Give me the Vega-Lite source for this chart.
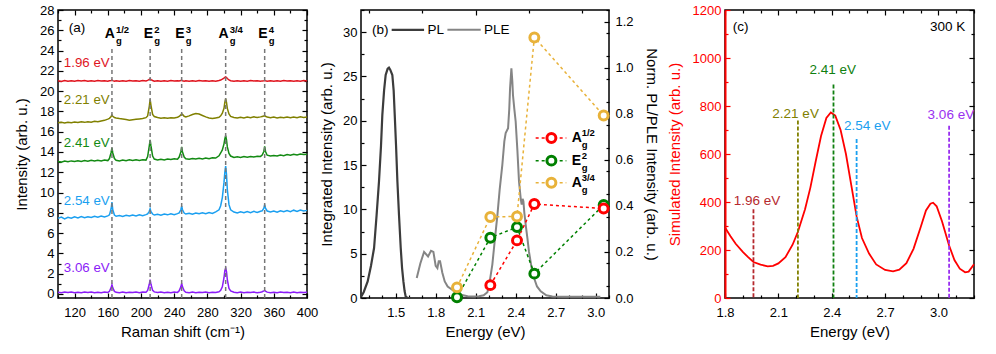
{
"$schema": "https://vega.github.io/schema/vega-lite/v6.json",
"padding": {"left": 13, "top": 3, "right": 0, "bottom": 0},
"bounds": "flush",
"spacing": 54,
"resolve": {"scale": {"color": "independent"}},
"config": {
  "font": "Liberation Sans",
  "view": {"stroke": "#000", "strokeWidth": 1.5},
  "axis": {"grid": false, "domain": false, "tickColor": "#000", "tickWidth": 1.2, "tickSize": -5, "labelColor": "#000", "titleColor": "#000", "labelFont": "Liberation Sans", "titleFont": "Liberation Sans", "labelFontSize": 13, "titleFontSize": 15, "titleFontWeight": "normal", "labelOverlap": false, "labelBound": false, "labelFlush": false},
  "text": {"font": "Liberation Sans"}
},
"hconcat": [
{
  "width": 249, "height": 288,
  "layer": [
   {"layer": [
    {
      "data": {"values": [
{"x":100,"r":21.02,"o":16.88,"g":13.05,"b":7.45,"p":0.17},
{"x":104,"r":20.96,"o":16.93,"g":13.0,"b":7.58,"p":0.12},
{"x":108,"r":21.05,"o":16.85,"g":13.1,"b":7.4,"p":0.18},
{"x":112,"r":20.98,"o":16.94,"g":13.03,"b":7.55,"p":0.14},
{"x":116,"r":21.03,"o":16.89,"g":13.12,"b":7.47,"p":0.19},
{"x":120,"r":20.97,"o":16.95,"g":13.06,"b":7.6,"p":0.13},
{"x":124,"r":21.04,"o":16.9,"g":13.14,"b":7.5,"p":0.17},
{"x":128,"r":20.99,"o":16.97,"g":13.07,"b":7.63,"p":0.12},
{"x":132,"r":21.05,"o":16.92,"g":13.15,"b":7.52,"p":0.18},
{"x":136,"r":20.97,"o":16.99,"g":13.09,"b":7.62,"p":0.14},
{"x":140,"r":21.03,"o":16.94,"g":13.17,"b":7.55,"p":0.19},
{"x":144,"r":20.98,"o":17.02,"g":13.1,"b":7.66,"p":0.13},
{"x":148,"r":21.04,"o":16.98,"g":13.18,"b":7.57,"p":0.17},
{"x":152,"r":20.99,"o":17.06,"g":13.12,"b":7.68,"p":0.12},
{"x":156,"r":21.03,"o":17.12,"g":13.2,"b":7.6,"p":0.18},
{"x":160,"r":20.97,"o":17.24,"g":13.15,"b":7.7,"p":0.15},
{"x":162,"r":21.02,"o":17.32,"g":13.35,"b":7.8,"p":0.26},
{"x":164,"r":21.05,"o":17.5,"g":13.95,"b":8.4,"p":0.62},
{"x":165,"r":21.08,"o":17.65,"g":14.4,"b":9.05,"p":0.9},
{"x":166,"r":21.04,"o":17.52,"g":13.9,"b":8.3,"p":0.6},
{"x":168,"r":20.98,"o":17.4,"g":13.35,"b":7.78,"p":0.25},
{"x":170,"r":21.03,"o":17.36,"g":13.18,"b":7.66,"p":0.16},
{"x":174,"r":20.97,"o":17.3,"g":13.12,"b":7.74,"p":0.13},
{"x":178,"r":21.02,"o":17.25,"g":13.2,"b":7.65,"p":0.18},
{"x":182,"r":20.98,"o":17.2,"g":13.14,"b":7.75,"p":0.12},
{"x":186,"r":21.04,"o":17.14,"g":13.22,"b":7.68,"p":0.17},
{"x":190,"r":20.99,"o":17.18,"g":13.16,"b":7.78,"p":0.14},
{"x":194,"r":21.03,"o":17.22,"g":13.23,"b":7.7,"p":0.19},
{"x":198,"r":20.98,"o":17.26,"g":13.17,"b":7.8,"p":0.13},
{"x":202,"r":21.04,"o":17.3,"g":13.24,"b":7.72,"p":0.18},
{"x":206,"r":21.0,"o":17.38,"g":13.2,"b":7.82,"p":0.16},
{"x":208,"r":21.06,"o":17.55,"g":13.55,"b":7.9,"p":0.35},
{"x":210,"r":21.15,"o":18.5,"g":14.6,"b":8.15,"p":0.95},
{"x":211,"r":21.22,"o":19.2,"g":15.2,"b":8.4,"p":1.4},
{"x":212,"r":21.14,"o":18.6,"g":14.6,"b":8.12,"p":0.95},
{"x":214,"r":21.05,"o":17.7,"g":13.6,"b":7.88,"p":0.35},
{"x":216,"r":20.98,"o":17.5,"g":13.3,"b":7.78,"p":0.2},
{"x":220,"r":21.03,"o":17.4,"g":13.22,"b":7.86,"p":0.14},
{"x":224,"r":20.97,"o":17.33,"g":13.28,"b":7.77,"p":0.18},
{"x":228,"r":21.02,"o":17.38,"g":13.22,"b":7.88,"p":0.13},
{"x":232,"r":20.98,"o":17.32,"g":13.3,"b":7.8,"p":0.17},
{"x":236,"r":21.04,"o":17.37,"g":13.25,"b":7.9,"p":0.12},
{"x":240,"r":20.99,"o":17.34,"g":13.32,"b":7.82,"p":0.18},
{"x":244,"r":21.03,"o":17.42,"g":13.28,"b":7.92,"p":0.15},
{"x":246,"r":21.0,"o":17.5,"g":13.5,"b":8.0,"p":0.3},
{"x":248,"r":21.04,"o":17.66,"g":14.0,"b":8.3,"p":0.7},
{"x":249,"r":21.06,"o":17.75,"g":14.5,"b":8.65,"p":1.05},
{"x":250,"r":21.02,"o":17.7,"g":14.0,"b":8.3,"p":0.7},
{"x":252,"r":20.98,"o":17.52,"g":13.5,"b":7.98,"p":0.3},
{"x":254,"r":21.03,"o":17.46,"g":13.33,"b":7.88,"p":0.17},
{"x":258,"r":20.97,"o":17.56,"g":13.28,"b":7.96,"p":0.13},
{"x":262,"r":21.02,"o":17.7,"g":13.36,"b":7.86,"p":0.18},
{"x":266,"r":20.98,"o":17.8,"g":13.3,"b":7.98,"p":0.12},
{"x":270,"r":21.04,"o":17.74,"g":13.38,"b":7.9,"p":0.17},
{"x":274,"r":20.99,"o":17.6,"g":13.32,"b":8.0,"p":0.14},
{"x":278,"r":21.03,"o":17.46,"g":13.4,"b":7.92,"p":0.18},
{"x":282,"r":20.97,"o":17.36,"g":13.34,"b":8.02,"p":0.13},
{"x":286,"r":21.02,"o":17.3,"g":13.42,"b":7.94,"p":0.17},
{"x":290,"r":20.98,"o":17.36,"g":13.4,"b":8.1,"p":0.15},
{"x":294,"r":21.05,"o":17.42,"g":13.62,"b":8.3,"p":0.22},
{"x":296,"r":21.1,"o":17.56,"g":13.9,"b":8.7,"p":0.35},
{"x":298,"r":21.18,"o":17.82,"g":14.2,"b":9.5,"p":0.7},
{"x":300,"r":21.28,"o":18.3,"g":14.8,"b":11.0,"p":1.6},
{"x":301,"r":21.36,"o":18.9,"g":15.3,"b":12.0,"p":2.3},
{"x":302,"r":21.4,"o":19.25,"g":15.6,"b":12.6,"p":2.55},
{"x":303,"r":21.34,"o":18.9,"g":15.2,"b":11.8,"p":2.2},
{"x":304,"r":21.24,"o":18.3,"g":14.5,"b":10.3,"p":1.4},
{"x":306,"r":21.1,"o":17.75,"g":13.85,"b":8.8,"p":0.55},
{"x":308,"r":21.02,"o":17.5,"g":13.6,"b":8.3,"p":0.3},
{"x":312,"r":20.98,"o":17.4,"g":13.46,"b":8.08,"p":0.17},
{"x":316,"r":21.03,"o":17.34,"g":13.52,"b":7.98,"p":0.13},
{"x":320,"r":20.97,"o":17.42,"g":13.46,"b":8.1,"p":0.18},
{"x":324,"r":21.02,"o":17.36,"g":13.54,"b":8.0,"p":0.12},
{"x":328,"r":20.98,"o":17.44,"g":13.48,"b":8.12,"p":0.17},
{"x":332,"r":21.04,"o":17.38,"g":13.56,"b":8.02,"p":0.14},
{"x":336,"r":20.99,"o":17.46,"g":13.5,"b":8.14,"p":0.18},
{"x":340,"r":21.03,"o":17.4,"g":13.58,"b":8.04,"p":0.13},
{"x":344,"r":20.97,"o":17.46,"g":13.56,"b":8.16,"p":0.17},
{"x":346,"r":21.01,"o":17.5,"g":13.7,"b":8.2,"p":0.22},
{"x":348,"r":21.03,"o":17.54,"g":14.05,"b":8.45,"p":0.3},
{"x":349,"r":21.05,"o":17.58,"g":14.55,"b":8.8,"p":0.35},
{"x":350,"r":21.02,"o":17.52,"g":14.05,"b":8.45,"p":0.28},
{"x":352,"r":20.98,"o":17.44,"g":13.68,"b":8.18,"p":0.18},
{"x":356,"r":21.03,"o":17.38,"g":13.6,"b":8.08,"p":0.13},
{"x":360,"r":20.97,"o":17.44,"g":13.66,"b":8.18,"p":0.17},
{"x":364,"r":21.02,"o":17.36,"g":13.6,"b":8.06,"p":0.12},
{"x":368,"r":20.98,"o":17.42,"g":13.7,"b":8.2,"p":0.18},
{"x":372,"r":21.04,"o":17.38,"g":13.64,"b":8.1,"p":0.14},
{"x":376,"r":20.99,"o":17.45,"g":13.74,"b":8.22,"p":0.17},
{"x":380,"r":21.03,"o":17.37,"g":13.68,"b":8.12,"p":0.13},
{"x":384,"r":20.97,"o":17.44,"g":13.78,"b":8.26,"p":0.18},
{"x":388,"r":21.02,"o":17.38,"g":13.7,"b":8.14,"p":0.12},
{"x":392,"r":20.98,"o":17.46,"g":13.8,"b":8.28,"p":0.17},
{"x":396,"r":21.04,"o":17.4,"g":13.74,"b":8.18,"p":0.14},
{"x":400,"r":20.99,"o":17.44,"g":13.78,"b":8.24,"p":0.16}
      ]},
      "transform": [{"fold": ["r","o","g","b","p"], "as": ["s","y"]}],
      "mark": {"type": "line", "strokeWidth": 1.5},
      "encoding": {
        "x": {"field": "x", "type": "quantitative", "scale": {"domain": [100, 400], "nice": false},
              "axis": {"orient": "bottom", "title": "Raman shift (cm⁻¹)", "labelOverlap": false, "values": [120,200,280,360], "labelPadding": 13, "titlePadding": 5}},
        "y": {"field": "y", "type": "quantitative", "scale": {"domain": [-0.4, 28], "nice": false, "zero": false},
              "axis": {"orient": "left", "title": "Intensity (arb. u.)", "labelOverlap": false, "values": [0,4,8,12,16,20,24,28], "labelPadding": 9, "titlePadding": 10}},
        "color": {"field": "s", "type": "nominal", "scale": {"domain": ["r","o","g","b","p"], "range": ["#e0141e","#808000","#138a13","#1a9ff0","#8b1cf7"]}, "legend": null}
      }
    },
    {
      "data": {"values": [{"x":165,"y":-0.4,"y2":24.3},{"x":211,"y":-0.4,"y2":24.3},{"x":249,"y":-0.4,"y2":24.3},{"x":302,"y":-0.4,"y2":24.3},{"x":349,"y":-0.4,"y2":24.3}]},
      "mark": {"type": "rule", "color": "#777777", "strokeWidth": 1.5, "strokeDash": [4, 3]},
      "encoding": {"x": {"field": "x", "type": "quantitative"}, "y": {"field": "y", "type": "quantitative"}, "y2": {"field": "y2"}}
    },
    {
      "data": {"values": [{"x":107,"y":22.8,"s":"r","t":"1.96 eV"},{"x":107,"y":19.1,"s":"o","t":"2.21 eV"},{"x":107,"y":14.9,"s":"g","t":"2.41 eV"},{"x":107,"y":9.2,"s":"b","t":"2.54 eV"},{"x":107,"y":2.6,"s":"p","t":"3.06 eV"}]},
      "mark": {"type": "text", "align": "left", "baseline": "middle", "fontSize": 13.3},
      "encoding": {"x": {"field": "x", "type": "quantitative"}, "y": {"field": "y", "type": "quantitative"}, "text": {"field": "t", "type": "nominal"}, "color": {"field": "s", "type": "nominal", "legend": null}}
    },
    {
      "data": {"values": [{"x":113,"y":26.2,"t":"(a)"}]},
      "mark": {"type": "text", "align": "left", "baseline": "middle", "fontSize": 13.5, "color": "#000"},
      "encoding": {"x": {"field": "x", "type": "quantitative"}, "y": {"field": "y", "type": "quantitative"}, "text": {"field": "t", "type": "nominal"}}
    },
    {
      "data": {"values": [{"x":165,"y":25.6,"m":"A","u":"1/2"},{"x":211,"y":25.6,"m":"E","u":"2"},{"x":249,"y":25.6,"m":"E","u":"3"},{"x":302,"y":25.6,"m":"A","u":"3/4"},{"x":349,"y":25.6,"m":"E","u":"4"}]},
      "encoding": {"x": {"field": "x", "type": "quantitative"}, "y": {"field": "y", "type": "quantitative"}},
      "layer": [
        {"mark": {"type": "text", "align": "right", "baseline": "middle", "dx": 3, "fontSize": 14, "fontWeight": "bold", "color": "#000"}, "encoding": {"text": {"field": "m", "type": "nominal"}}},
        {"mark": {"type": "text", "align": "left", "baseline": "middle", "dx": 4, "dy": 7, "fontSize": 9.5, "fontWeight": "bold", "color": "#000", "text": "g"}},
        {"mark": {"type": "text", "align": "left", "baseline": "middle", "dx": 4, "dy": -4, "fontSize": 9.5, "fontWeight": "bold", "color": "#000"}, "encoding": {"text": {"field": "u", "type": "nominal"}}}
      ]
    }
   ]},
   {
     "data": {"values": [{"x": 100, "y": 0}]},
     "mark": {"type": "point", "opacity": 0},
     "encoding": {
       "x": {"field": "x", "type": "quantitative", "scale": {"domain": [100, 400], "nice": false},
             "axis": {"orient": "top", "title": null, "labels": false, "values": [100,120,140,160,180,200,220,240,260,280,300,320,340,360,380,400], "tickSize": {"condition": {"test": "datum.value % 40 == 0", "value": -5}, "value": -3}}},
       "y": {"field": "y", "type": "quantitative", "scale": {"domain": [-0.4, 28], "nice": false, "zero": false},
             "axis": {"orient": "right", "title": null, "labels": false, "values": [0,1,2,3,4,5,6,7,8,9,10,11,12,13,14,15,16,17,18,19,20,21,22,23,24,25,26,27,28], "tickSize": {"condition": {"test": "datum.value % 2 == 0", "value": -5}, "value": -3}}}
     }
   },
   {
     "data": {"values": [{"x": 100, "y": 0}]},
     "mark": {"type": "point", "opacity": 0},
     "encoding": {
       "x": {"field": "x", "type": "quantitative", "scale": {"domain": [100, 400], "nice": false},
             "axis": {"orient": "bottom", "title": null, "labels": false, "values": [100,140,180,220,260,300,340,380], "tickSize": -3}},
       "y": {"field": "y", "type": "quantitative", "scale": {"domain": [-0.4, 28], "nice": false, "zero": false},
             "axis": {"orient": "left", "title": null, "labels": false, "values": [1,3,5,7,9,11,13,15,17,19,21,23,25,27], "tickSize": -3}}
     }
   },
   {
     "data": {"values": [{"x": 100, "y": 0}]},
     "mark": {"type": "point", "opacity": 0},
     "encoding": {
       "x": {"field": "x", "type": "quantitative", "scale": {"domain": [100, 400], "nice": false},
             "axis": {"orient": "bottom", "title": null, "labelOverlap": false, "values": [160,240,320,400], "labelPadding": 13}},
       "y": {"field": "y", "type": "quantitative", "scale": {"domain": [-0.4, 28], "nice": false, "zero": false},
             "axis": {"orient": "left", "title": null, "labelOverlap": false, "values": [2,6,10,14,18,22,26], "labelPadding": 9}}
     }
   }
  ],
  "resolve": {"axis": {"x": "independent", "y": "independent"}}
},
{
  "width": 248, "height": 288,
  "layer": [
   {"layer": [
    {
      "data": {"values": [
{"x":1.24,"y":0.005},{"x":1.26,"y":0.025},{"x":1.29,"y":0.072},{"x":1.315,"y":0.14},{"x":1.338,"y":0.217},{"x":1.357,"y":0.36},{"x":1.375,"y":0.506},{"x":1.39,"y":0.66},{"x":1.4,"y":0.795},{"x":1.413,"y":0.9},{"x":1.425,"y":0.968},{"x":1.44,"y":0.995},{"x":1.45,"y":1.0},{"x":1.46,"y":0.99},{"x":1.475,"y":0.968},{"x":1.485,"y":0.9},{"x":1.493,"y":0.795},{"x":1.503,"y":0.66},{"x":1.513,"y":0.506},{"x":1.525,"y":0.36},{"x":1.538,"y":0.217},{"x":1.548,"y":0.13},{"x":1.558,"y":0.072},{"x":1.567,"y":0.03},{"x":1.575,"y":0.007},{"x":1.59,"y":0.0},{"x":1.61,"y":0.0}
      ]},
      "mark": {"type": "line", "color": "#3c3c3c", "strokeWidth": 2.2},
      "encoding": {
        "x": {"field": "x", "type": "quantitative", "scale": {"domain": [1.24, 3.1], "nice": false, "zero": false},
              "axis": {"orient": "top", "title": null, "labels": false, "values": [1.3,1.4,1.5,1.6,1.7,1.8,1.9,2.0,2.1,2.2,2.3,2.4,2.5,2.6,2.7,2.8,2.9,3.0,3.1], "tickSize": {"condition": {"test": "indexof([1.5,1.8,2.1,2.4,2.7,3], datum.value) >= 0", "value": -5}, "value": -3}}},
        "y": {"field": "y", "type": "quantitative", "scale": {"domain": [0, 1.25], "nice": false},
              "axis": {"orient": "right", "title": "Norm. PL/PLE Intensity (arb. u.)", "labelOverlap": false, "format": ".1f", "values": [0,0.1,0.2,0.3,0.4,0.5,0.6,0.7,0.8,0.9,1.0,1.1,1.2], "labelPadding": 11, "titlePadding": 10}}
      }
    },
    {
      "data": {"values": [
{"x":1.658,"y":0.087},{"x":1.685,"y":0.15},{"x":1.713,"y":0.2},{"x":1.743,"y":0.18},{"x":1.765,"y":0.205},{"x":1.783,"y":0.2},{"x":1.8,"y":0.14},{"x":1.813,"y":0.13},{"x":1.823,"y":0.16},{"x":1.833,"y":0.16},{"x":1.85,"y":0.11},{"x":1.868,"y":0.072},{"x":1.89,"y":0.05},{"x":1.913,"y":0.04},{"x":1.95,"y":0.025},{"x":1.988,"y":0.014},{"x":2.04,"y":0.008},{"x":2.088,"y":0.007},{"x":2.125,"y":0.008},{"x":2.16,"y":0.012},{"x":2.188,"y":0.025},{"x":2.205,"y":0.07},{"x":2.225,"y":0.145},{"x":2.245,"y":0.26},{"x":2.263,"y":0.36},{"x":2.28,"y":0.47},{"x":2.3,"y":0.578},{"x":2.315,"y":0.68},{"x":2.325,"y":0.716},{"x":2.343,"y":0.737},{"x":2.352,"y":0.82},{"x":2.358,"y":0.91},{"x":2.368,"y":0.997},{"x":2.375,"y":0.94},{"x":2.38,"y":0.88},{"x":2.39,"y":0.82},{"x":2.4,"y":0.766},{"x":2.413,"y":0.64},{"x":2.425,"y":0.506},{"x":2.438,"y":0.43},{"x":2.445,"y":0.405},{"x":2.452,"y":0.43},{"x":2.458,"y":0.42},{"x":2.465,"y":0.37},{"x":2.475,"y":0.318},{"x":2.488,"y":0.26},{"x":2.5,"y":0.2},{"x":2.52,"y":0.13},{"x":2.538,"y":0.087},{"x":2.56,"y":0.05},{"x":2.588,"y":0.029},{"x":2.63,"y":0.012},{"x":2.675,"y":0.007},{"x":2.75,"y":0.005},{"x":2.85,"y":0.005},{"x":2.95,"y":0.005},{"x":3.035,"y":0.005}
      ]},
      "mark": {"type": "line", "color": "#858585", "strokeWidth": 2},
      "encoding": {"x": {"field": "x", "type": "quantitative"}, "y": {"field": "y", "type": "quantitative"}}
    }
   ]},
   {"layer": [
    {
      "data": {"values": [
{"x":1.96,"y":0.08,"s":"E2"},{"x":2.21,"y":6.8,"s":"E2"},{"x":2.41,"y":8.0,"s":"E2"},{"x":2.54,"y":2.75,"s":"E2"},{"x":3.06,"y":10.5,"s":"E2"},
{"x":1.96,"y":1.2,"s":"A34"},{"x":2.21,"y":9.15,"s":"A34"},{"x":2.41,"y":9.2,"s":"A34"},{"x":2.54,"y":29.4,"s":"A34"},{"x":3.06,"y":20.6,"s":"A34"},
{"x":2.21,"y":1.45,"s":"A12"},{"x":2.41,"y":6.5,"s":"A12"},{"x":2.54,"y":10.6,"s":"A12"},{"x":3.06,"y":10.1,"s":"A12"}
      ]},
      "encoding": {
        "x": {"field": "x", "type": "quantitative", "scale": {"domain": [1.24, 3.1], "nice": false, "zero": false},
              "axis": {"orient": "bottom", "title": "Energy (eV)", "labelOverlap": false, "format": ".1f", "values": [1.5,1.8,2.1,2.4,2.7,3.0], "labelPadding": 13, "titlePadding": 5}},
        "y": {"field": "y", "type": "quantitative", "scale": {"domain": [0, 32.5], "nice": false},
              "axis": {"orient": "left", "title": "Integrated Intensity (arb. u.)", "labelOverlap": false, "values": [0,5,10,15,20,25,30], "labelPadding": 9, "titlePadding": 8}},
        "color": {"field": "s", "type": "nominal", "scale": {"domain": ["A12","E2","A34"], "range": ["#ff0000","#008000","#e8b23a"]}, "legend": null}
      },
      "layer": [
        {"mark": {"type": "line", "strokeDash": [3, 3], "strokeWidth": 1.5}},
        {"mark": {"type": "point", "shape": "circle", "size": 80, "strokeWidth": 3, "filled": false, "fill": "white", "opacity": 1}}
      ]
    },
    {
      "data": {"values": [{"x":2.55,"x2":2.78,"y":18.05,"s":"A12"},{"x":2.55,"x2":2.78,"y":15.5,"s":"E2"},{"x":2.55,"x2":2.78,"y":13.0,"s":"A34"}]},
      "mark": {"type": "rule", "strokeDash": [3, 3], "strokeWidth": 1.5},
      "encoding": {"x": {"field": "x", "type": "quantitative"}, "x2": {"field": "x2"}, "y": {"field": "y", "type": "quantitative"}, "color": {"field": "s", "type": "nominal", "legend": null}}
    },
    {
      "data": {"values": [{"x":2.668,"y":18.05,"s":"A12"},{"x":2.668,"y":15.5,"s":"E2"},{"x":2.668,"y":13.0,"s":"A34"}]},
      "mark": {"type": "point", "shape": "circle", "size": 80, "strokeWidth": 3, "filled": false, "fill": "white", "opacity": 1},
      "encoding": {"x": {"field": "x", "type": "quantitative"}, "y": {"field": "y", "type": "quantitative"}, "color": {"field": "s", "type": "nominal", "legend": null}}
    },
    {
      "data": {"values": [{"x":2.82,"y":18.05,"m":"A","u":"1/2"},{"x":2.82,"y":15.5,"m":"E","u":"2"},{"x":2.82,"y":13.0,"m":"A","u":"3/4"}]},
      "encoding": {"x": {"field": "x", "type": "quantitative"}, "y": {"field": "y", "type": "quantitative"}},
      "layer": [
        {"mark": {"type": "text", "align": "left", "baseline": "middle", "fontSize": 14, "fontWeight": "bold", "color": "#000"}, "encoding": {"text": {"field": "m", "type": "nominal"}}},
        {"mark": {"type": "text", "align": "left", "baseline": "middle", "dx": 10, "dy": 7, "fontSize": 9.5, "fontWeight": "bold", "color": "#000", "text": "g"}},
        {"mark": {"type": "text", "align": "left", "baseline": "middle", "dx": 10, "dy": -5, "fontSize": 9.5, "fontWeight": "bold", "color": "#000"}, "encoding": {"text": {"field": "u", "type": "nominal"}}}
      ]
    },
    {
      "data": {"values": [{"x":1.47,"x2":1.713,"y":30.26}]},
      "mark": {"type": "rule", "color": "#3c3c3c", "strokeWidth": 2.2},
      "encoding": {"x": {"field": "x", "type": "quantitative"}, "x2": {"field": "x2"}, "y": {"field": "y", "type": "quantitative"}}
    },
    {
      "data": {"values": [{"x":1.888,"x2":2.138,"y":30.26}]},
      "mark": {"type": "rule", "color": "#858585", "strokeWidth": 2},
      "encoding": {"x": {"field": "x", "type": "quantitative"}, "x2": {"field": "x2"}, "y": {"field": "y", "type": "quantitative"}}
    },
    {
      "data": {"values": [{"x":1.3225,"y":30.26,"t":"(b)"},{"x":1.738,"y":30.26,"t":"PL"},{"x":2.163,"y":30.26,"t":"PLE"}]},
      "mark": {"type": "text", "align": "left", "baseline": "middle", "fontSize": 13.5, "color": "#000"},
      "encoding": {"x": {"field": "x", "type": "quantitative"}, "y": {"field": "y", "type": "quantitative"}, "text": {"field": "t", "type": "nominal"}}
    }
   ]},
   {
     "data": {"values": [{"x": 1.5, "y": 0}]},
     "mark": {"type": "point", "opacity": 0},
     "encoding": {
       "x": {"field": "x", "type": "quantitative", "scale": {"domain": [1.24, 3.1], "nice": false, "zero": false},
             "axis": {"orient": "bottom", "title": null, "labels": false, "values": [1.3,1.4,1.6,1.7,1.9,2.0,2.2,2.3,2.5,2.6,2.8,2.9,3.1], "tickSize": -3}},
       "y": {"field": "y", "type": "quantitative", "scale": {"domain": [0, 32.5], "nice": false},
             "axis": {"orient": "left", "title": null, "labels": false, "values": [2.5,7.5,12.5,17.5,22.5,27.5,32.5], "tickSize": -3}}
     }
   },
   {
     "data": {"values": [{"x": 1.5, "y": 0}]},
     "mark": {"type": "point", "opacity": 0},
     "encoding": {
       "x": {"field": "x", "type": "quantitative", "axis": null},
       "y": {"field": "y", "type": "quantitative", "scale": {"domain": [0, 1.25], "nice": false},
             "axis": {"orient": "right", "title": null, "labels": false, "values": [0.05,0.15,0.25,0.35,0.45,0.55,0.65,0.75,0.85,0.95,1.05,1.15,1.25], "tickSize": -3}}
     }
   }
  ],
  "resolve": {"scale": {"y": "independent"}, "axis": {"x": "independent", "y": "independent"}}
},
{
  "width": 8, "height": 288,
  "view": {"stroke": null},
  "data": {"values": [{"k": 1}]},
  "mark": {"type": "point", "opacity": 0},
  "encoding": {}
},
{
  "width": 249, "height": 288,
  "layer": [
   {"layer": [
    {
      "data": {"values": [
{"x":1.8,"y":294},{"x":1.83,"y":258},{"x":1.86,"y":226},{"x":1.9,"y":192},{"x":1.93,"y":170},{"x":1.96,"y":150},{"x":2.0,"y":139},{"x":2.04,"y":132},{"x":2.07,"y":134},{"x":2.1,"y":144},{"x":2.14,"y":170},{"x":2.18,"y":222},{"x":2.21,"y":276},{"x":2.25,"y":370},{"x":2.28,"y":460},{"x":2.31,"y":570},{"x":2.34,"y":675},{"x":2.37,"y":750},{"x":2.395,"y":773},{"x":2.42,"y":760},{"x":2.45,"y":700},{"x":2.48,"y":600},{"x":2.51,"y":470},{"x":2.54,"y":340},{"x":2.57,"y":250},{"x":2.61,"y":185},{"x":2.65,"y":140},{"x":2.7,"y":117},{"x":2.745,"y":111},{"x":2.78,"y":118},{"x":2.82,"y":145},{"x":2.86,"y":205},{"x":2.9,"y":295},{"x":2.93,"y":365},{"x":2.955,"y":393},{"x":2.97,"y":397},{"x":2.99,"y":382},{"x":3.02,"y":320},{"x":3.06,"y":219},{"x":3.09,"y":158},{"x":3.12,"y":122},{"x":3.15,"y":107},{"x":3.17,"y":110},{"x":3.2,"y":141}
      ]},
      "mark": {"type": "line", "color": "#ff0000", "strokeWidth": 1.8},
      "encoding": {
        "x": {"field": "x", "type": "quantitative", "scale": {"domain": [1.8, 3.2], "nice": false, "zero": false},
              "axis": {"orient": "bottom", "title": "Energy (eV)", "labelOverlap": false, "format": ".1f", "values": [1.8,2.1,2.4,2.7,3.0], "labelPadding": 13, "titlePadding": 5}},
        "y": {"field": "y", "type": "quantitative", "scale": {"domain": [0, 1200], "nice": false},
              "axis": {"orient": "left", "title": "Simulated Intensity (arb. u.)", "labelOverlap": false, "format": "d", "titleColor": "#ff0000", "labelColor": "#ff0000", "tickColor": "#ff0000", "domain": true, "domainColor": "#ff0000", "domainWidth": 2, "values": [0,200,400,600,800,1000,1200], "labelPadding": 9, "titlePadding": 10}}
      }
    },
    {
      "data": {"values": [{"x":1.96,"top":370,"bot":0,"s":"1.96"},{"x":2.21,"top":740,"bot":0,"s":"2.21"},{"x":2.41,"top":890,"bot":0,"s":"2.41"},{"x":2.54,"top":663,"bot":0,"s":"2.54"},{"x":3.06,"top":718,"bot":0,"s":"3.06"}]},
      "mark": {"type": "rule", "strokeDash": [4, 2], "strokeWidth": 1.8},
      "encoding": {"x": {"field": "x", "type": "quantitative"}, "y": {"field": "top", "type": "quantitative"}, "y2": {"field": "bot"},
        "color": {"field": "s", "type": "nominal", "scale": {"domain": ["1.96","2.21","2.41","2.54","3.06"], "range": ["#b5292e","#808000","#108010","#1aa0f0","#9a30f0"]}, "legend": null}}
    },
    {
      "data": {"values": [{"x":1.98,"y":405,"s":"1.96","t":"1.96 eV"},{"x":2.197,"y":768,"s":"2.21","t":"2.21 eV"},{"x":2.406,"y":952,"s":"2.41","t":"2.41 eV"},{"x":2.6,"y":716,"s":"2.54","t":"2.54 eV"},{"x":3.07,"y":763,"s":"3.06","t":"3.06 eV"}]},
      "mark": {"type": "text", "align": "center", "baseline": "middle", "fontSize": 13.5},
      "encoding": {"x": {"field": "x", "type": "quantitative"}, "y": {"field": "y", "type": "quantitative"}, "text": {"field": "t", "type": "nominal"}, "color": {"field": "s", "type": "nominal", "legend": null}}
    },
    {
      "data": {"values": [{"x":1.844,"y":1128,"t":"(c)"}]},
      "mark": {"type": "text", "align": "left", "baseline": "middle", "fontSize": 13.5, "color": "#000"},
      "encoding": {"x": {"field": "x", "type": "quantitative"}, "y": {"field": "y", "type": "quantitative"}, "text": {"field": "t", "type": "nominal"}}
    },
    {
      "data": {"values": [{"x":3.151,"y":1128,"t":"300 K"}]},
      "mark": {"type": "text", "align": "right", "baseline": "middle", "fontSize": 13.5, "color": "#000"},
      "encoding": {"x": {"field": "x", "type": "quantitative"}, "y": {"field": "y", "type": "quantitative"}, "text": {"field": "t", "type": "nominal"}}
    }
   ]},
   {
     "data": {"values": [{"x": 1.8, "y": 0}]},
     "mark": {"type": "point", "opacity": 0},
     "encoding": {
       "x": {"field": "x", "type": "quantitative", "scale": {"domain": [1.8, 3.2], "nice": false, "zero": false},
             "axis": {"orient": "top", "title": null, "labels": false, "values": [1.8,1.9,2.0,2.1,2.2,2.3,2.4,2.5,2.6,2.7,2.8,2.9,3.0,3.1,3.2], "tickSize": {"condition": {"test": "indexof([1.8,2.1,2.4,2.7,3], datum.value) >= 0", "value": -5}, "value": -3}}},
       "y": {"field": "y", "type": "quantitative", "scale": {"domain": [0, 1200], "nice": false},
             "axis": {"orient": "right", "title": null, "labels": false, "values": [0,100,200,300,400,500,600,700,800,900,1000,1100,1200], "tickSize": {"condition": {"test": "datum.value % 200 == 0", "value": -5}, "value": -3}}}
     }
   },
   {
     "data": {"values": [{"x": 1.8, "y": 0}]},
     "mark": {"type": "point", "opacity": 0},
     "encoding": {
       "x": {"field": "x", "type": "quantitative", "scale": {"domain": [1.8, 3.2], "nice": false, "zero": false},
             "axis": {"orient": "bottom", "title": null, "labels": false, "values": [1.9,2.0,2.2,2.3,2.5,2.6,2.8,2.9,3.1,3.2], "tickSize": -3}},
       "y": {"field": "y", "type": "quantitative", "scale": {"domain": [0, 1200], "nice": false},
             "axis": {"orient": "left", "title": null, "labels": false, "tickColor": "#ff0000", "values": [100,300,500,700,900,1100], "tickSize": -3}}
     }
   }
  ],
  "resolve": {"axis": {"x": "independent", "y": "independent"}}
}
]
}
